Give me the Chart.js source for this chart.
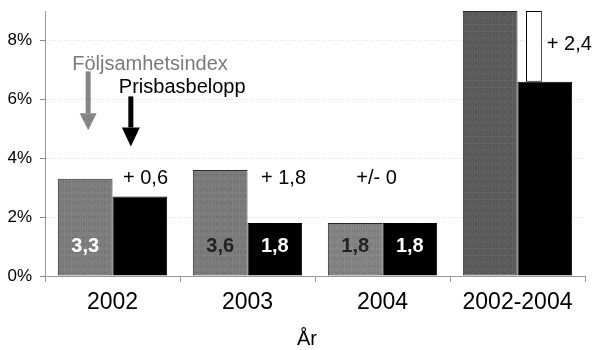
<!DOCTYPE html>
<html lang="sv">
<head>
<meta charset="utf-8">
<title>Följsamhetsindex och prisbasbelopp</title>
<script src="https://cdn.jsdelivr.net/npm/chart.js@4.4.1/dist/chart.umd.min.js"></script>
<style>
  html, body { margin: 0; padding: 0; background: #fff; }
  canvas { display: block; }
</style>
</head>
<body>
<canvas id="chart" width="596" height="350"></canvas>
<script>
// Data (procent)
const years = ['2002', '2003', '2004', '2002-2004'];
const foljsamhetsindex = [3.3, 3.6, 1.8, 9.0];
const prisbasbelopp = [2.7, 1.8, 1.8, 6.6];
const tillagg = [null, null, null, 2.4];   // vita stapeln ovanpå prisbasbeloppet
const yTicks = [0, 2, 4, 6, 8];
const yMax = 9;

const FONT = "'Liberation Sans', Arial, sans-serif";
Chart.defaults.font.family = FONT;
Chart.defaults.color = '#000';

// vilka staplar som har värdet utskrivet inne i stapeln, och i vilken färg
const foljLabelColor = ['#fff', '#222', '#222', null];
const prisLabelColor = [null, '#fff', '#fff', null];
const grayTones = ['#7c7c7c', '#7a7a7a', '#828282', '#5a5a5a'];

const canvas = document.getElementById('chart');
const ctx = canvas.getContext('2d');

// grå yta med lite kornighet
function grain(base) {
    const c = document.createElement('canvas');
    c.width = 7; c.height = 7;
    const g = c.getContext('2d');
    g.fillStyle = base;
    g.fillRect(0, 0, 7, 7);
    for (let i = 0; i < 7; i++) {
        for (let j = 0; j < 7; j++) {
            const k = (i * 3 + j * 5 + i * j) % 6;
            if (k === 0) { g.fillStyle = 'rgba(0,0,0,0.08)'; g.fillRect(i, j, 1, 1); }
            if (k === 3) { g.fillStyle = 'rgba(255,255,255,0.06)'; g.fillRect(i, j, 1, 1); }
        }
    }
    return ctx.createPattern(c, 'repeat');
}

const fmt = v => v.toFixed(1).replace('.', ',');

function arrow(c, x, y0, y1, fill, headW, headL) {
    c.fillStyle = fill;
    c.fillRect(x - 2.5, y0, 5, y1 - headL - y0);
    c.beginPath();
    c.moveTo(x - headW / 2, y1 - headL);
    c.lineTo(x + headW / 2, y1 - headL);
    c.lineTo(x, y1);
    c.closePath();
    c.fill();
}

const annotations = {
    id: 'annotations',
    // den smala vita stapeln ligger till vänster i prisbasbeloppets stapel
    afterDatasetsUpdate(chart) {
        const base = chart.getDatasetMeta(1).data[3];
        const top = chart.getDatasetMeta(2).data[3];
        top.x = base.x - base.width * 0.2;
    },
    afterDatasetsDraw(chart) {
        const { ctx: c, scales: { x, y } } = chart;
        const folj = chart.getDatasetMeta(0).data;
        const pris = chart.getDatasetMeta(1).data;
        const extra = chart.getDatasetMeta(2).data[3];
        c.save();

        // värden inne i staplarna
        c.font = 'bold 20px ' + FONT;
        c.textAlign = 'center';
        c.textBaseline = 'middle';
        const yIn = y.getPixelForValue(1.0);
        years.forEach((_, i) => {
            if (foljLabelColor[i]) {
                c.fillStyle = foljLabelColor[i];
                c.fillText(fmt(foljsamhetsindex[i]), folj[i].x, yIn);
            }
            if (prisLabelColor[i]) {
                c.fillStyle = prisLabelColor[i];
                c.fillText(fmt(prisbasbelopp[i]), pris[i].x, yIn);
            }
        });

        // skillnad mellan serierna
        c.font = '20px ' + FONT;
        c.fillStyle = '#000';
        const shift = [33, 36, -6];
        const yDiff = y.getPixelForValue(3.3);
        for (let i = 0; i < 3; i++) {
            const d = Math.round((foljsamhetsindex[i] - prisbasbelopp[i]) * 10) / 10;
            const txt = d === 0 ? '+/- 0' : '+ ' + fmt(d);
            c.fillText(txt, x.getPixelForValue(i) + shift[i], yDiff);
        }
        c.textAlign = 'left';
        c.fillText('+ ' + fmt(tillagg[3]), extra.x + extra.width / 2 + 5, y.getPixelForValue(7.85));

        // förklaring med pilar
        c.textBaseline = 'alphabetic';
        c.fillStyle = '#7a7a7a';
        c.fillText('Följsamhetsindex', folj[0].x - 13, y.getPixelForValue(7.0));
        c.fillStyle = '#000';
        c.fillText('Prisbasbelopp', pris[0].x - 21, y.getPixelForValue(6.2));
        arrow(c, folj[0].x + 3, y.getPixelForValue(6.95), y.getPixelForValue(4.95), grain('#858585'), 17, 17);
        arrow(c, pris[0].x - 9, y.getPixelForValue(6.1), y.getPixelForValue(4.4), '#000', 18, 19);

        // axeltitel, något till vänster om mitten
        c.textAlign = 'center';
        c.textBaseline = 'middle';
        const area = chart.chartArea;
        c.fillText('År', (area.left + area.right) / 2 - 8, chart.height - 11);

        c.restore();
    }
};

new Chart(ctx, {
    type: 'bar',
    data: {
        labels: years,
        datasets: [
            {
                label: 'Följsamhetsindex',
                stack: 'folj',
                data: foljsamhetsindex,
                backgroundColor: grayTones.map(grain),
                borderColor: '#2a2a2a',
                borderWidth: 1,
                borderSkipped: false
            },
            {
                label: 'Prisbasbelopp',
                stack: 'pris',
                data: prisbasbelopp,
                backgroundColor: '#000',
                borderColor: '#000',
                borderWidth: 1
            },
            {
                label: 'Tillägg',
                stack: 'pris',
                data: tillagg,
                backgroundColor: '#fff',
                borderColor: '#000',
                borderWidth: 1,
                borderSkipped: false,
                barPercentage: 0.29
            }
        ]
    },
    options: {
        responsive: false,
        animation: false,
        categoryPercentage: 0.81,
        barPercentage: 1,
        layout: { padding: { left: 0, right: 11, top: 11, bottom: 0 } },
        plugins: {
            legend: { display: false },
            tooltip: { enabled: false }
        },
        scales: {
            x: {
                offset: true,
                grid: {
                    display: true,
                    drawOnChartArea: false,
                    drawTicks: true,
                    tickLength: 6,
                    color: '#999',
                    offset: true
                },
                border: { display: true, color: '#999', width: 1 },
                ticks: { font: { size: 23 }, padding: 7, maxRotation: 0, autoSkip: false },
                afterFit: s => { s.height = 74; }
            },
            y: {
                stacked: true,
                min: 0,
                max: yMax,
                afterBuildTicks: s => { s.ticks = yTicks.map(v => ({ value: v })); },
                ticks: { callback: v => v + '%', font: { size: 17 }, padding: 8 },
                grid: {
                    color: c => c.tick && c.tick.value === 0 ? 'rgba(0,0,0,0)' : '#dadada',
                    tickColor: '#888',
                    tickLength: 5,
                    tickBorderDash: []
                },
                border: { display: true, color: '#999', width: 1, dash: [1, 2] },
                afterFit: s => {
                    s.width = 45;
                    s.paddingTop = 0;
                    s.paddingBottom = 0;
                }
            }
        }
    },
    plugins: [annotations]
});
</script>
</body>
</html>
